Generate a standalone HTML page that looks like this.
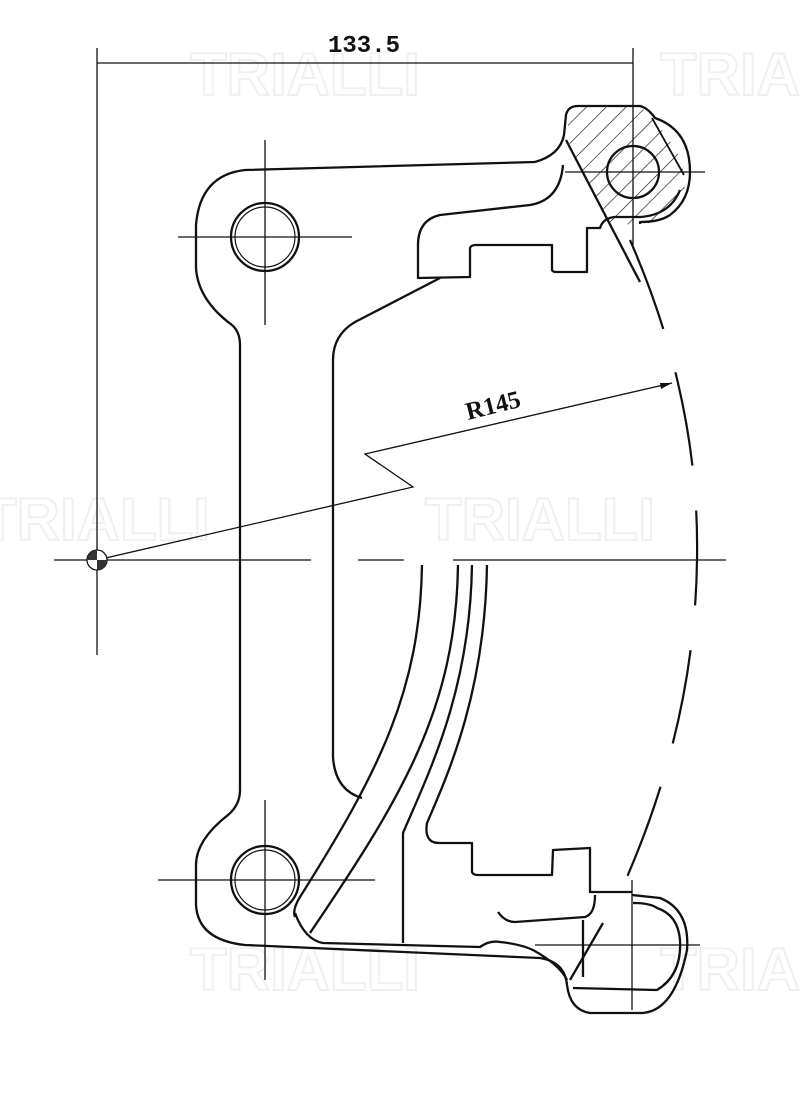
<!DOCTYPE html>
<html><head><meta charset="utf-8"><style>
html,body{margin:0;padding:0;background:#fff;}
svg{display:block;}
</style></head><body>
<svg width="800" height="1097" viewBox="0 0 800 1097" xmlns="http://www.w3.org/2000/svg">
<defs>
<pattern id="h" width="14" height="14" patternUnits="userSpaceOnUse" patternTransform="rotate(45)">
<line x1="0" y1="0" x2="0" y2="14" stroke="#111" stroke-width="1.3"/>
</pattern>
<clipPath id="hc"><path d="M568,112 Q570,106 578,106 L640,106 L652,118 L666,135 L682,160 L686,200 L660,222 L640,224 Q610,226 605,218 L568,140 Z"/></clipPath>
</defs>
<g fill="none" stroke="#f0f0f0" stroke-width="2" font-family="Liberation Sans, sans-serif" font-weight="bold" font-size="60">
<text x="190" y="95">TRIALLI</text><text x="660" y="95">TRIALLI</text>
<text x="-20" y="540">TRIALLI</text><text x="425" y="540">TRIALLI</text>
<text x="190" y="990">TRIALLI</text><text x="660" y="990">TRIALLI</text>
</g>
<g fill="none" stroke="#111" stroke-width="1.3">
<line x1="97" y1="48" x2="97" y2="655"/>
<line x1="633" y1="48" x2="633" y2="245"/>
<line x1="97" y1="63" x2="633" y2="63"/>
<line x1="54" y1="560" x2="311" y2="560"/>
<line x1="358" y1="560" x2="404" y2="560"/>
<line x1="453" y1="560" x2="726" y2="560"/>
<polyline points="97,560 413,487 365,454 672,383"/>
<line x1="178" y1="237" x2="352" y2="237"/><line x1="265" y1="140" x2="265" y2="325"/>
<line x1="158" y1="880" x2="375" y2="880"/><line x1="265" y1="800" x2="265" y2="980"/>
<line x1="565" y1="172" x2="705" y2="172"/>
<line x1="632" y1="880" x2="632" y2="1010"/><line x1="535" y1="945" x2="700" y2="945"/>
</g>
<polygon points="672,383 660,383 661,389" fill="#111"/>
<circle cx="97" cy="560" r="10" fill="#fff" stroke="#111" stroke-width="1.3"/>
<path d="M97,550 A10,10 0 0 0 87,560 L97,560 Z M97,570 A10,10 0 0 0 107,560 L97,560Z" fill="#333"/>
<text x="328" y="52" font-family="Liberation Mono, monospace" font-size="24" font-weight="bold" fill="#111">133.5</text>
<text x="0" y="0" font-family="Liberation Serif, serif" font-size="25" font-weight="bold" fill="#111" transform="translate(468,420) rotate(-14)">R145</text>
<path d="M630,240 Q700,400 697,560 Q695,720 627,877" fill="none" stroke="#111" stroke-width="2.2" stroke-dasharray="95,45"/>
<rect x="560" y="100" width="140" height="140" fill="url(#h)" clip-path="url(#hc)"/>
<g fill="none" stroke="#111" stroke-width="2.3" stroke-linejoin="round">
<circle cx="265" cy="237" r="34"/><circle cx="265" cy="237" r="30" stroke-width="1.2"/>
<circle cx="265" cy="880" r="34"/><circle cx="265" cy="880" r="30" stroke-width="1.2"/>
<circle cx="633" cy="172" r="26"/>
<path d="M535,162 L245,170 Q200,175 196,225 L196,268 Q198,300 232,325 Q240,332 240,345 L240,790 Q240,805 228,815 Q196,840 196,865 L196,905 Q198,940 245,945 L540,958 Q565,962 567,985 Q570,1010 590,1013 L643,1013 Q675,1010 687,950 Q690,910 660,898 L632,895"/>
<path d="M535,162 Q560,155 564,135 L566,115 Q568,106 578,106 L640,106 Q648,108 655,118 Q690,130 690,172 Q690,200 670,215 Q660,222 640,222 L640,224"/>
<path d="M566,140 L640,282"/>
<path d="M652,118 L684,175" stroke-width="1.8"/>
<path d="M563,165 Q560,200 530,205 L440,215 Q418,220 418,245 L418,278 L470,277 L470,248 Q471,245 476,245 L552,245 L552,270 Q553,272 556,272 L587,272 L587,228 L600,228 Q603,218 615,217 L640,217 Q670,215 680,190"/>
<path d="M440,278 L355,322 Q333,335 333,360 L333,757 Q335,790 362,798"/>
<path d="M422,565 C420,690 380,770 300,897 Q292,910 295,917"/>
<path d="M458,565 C456,710 400,800 310,933"/>
<path d="M472,565 C470,690 430,770 403,833 L403,943"/>
<path d="M487,565 C485,690 450,770 427,823 Q425,835 430,840 Q433,843 440,843 L472,843 L472,872 Q473,875 478,875 L552,875 L553,850 L590,848 L590,892 L632,892"/>
<path d="M295,913 Q305,940 323,943 L480,947 Q490,940 500,942 Q520,944 533,950 Q560,965 567,980"/>
<path d="M633,903 Q650,903 657,908 Q678,915 680,940 Q682,975 657,990 L573,988"/>
<path d="M498,912 Q505,922 515,922 L585,917 Q595,914 595,895"/>
<line x1="583" y1="920" x2="583" y2="977"/>
<line x1="603" y1="923" x2="570" y2="980"/>
</g>
</svg>
</body></html>
